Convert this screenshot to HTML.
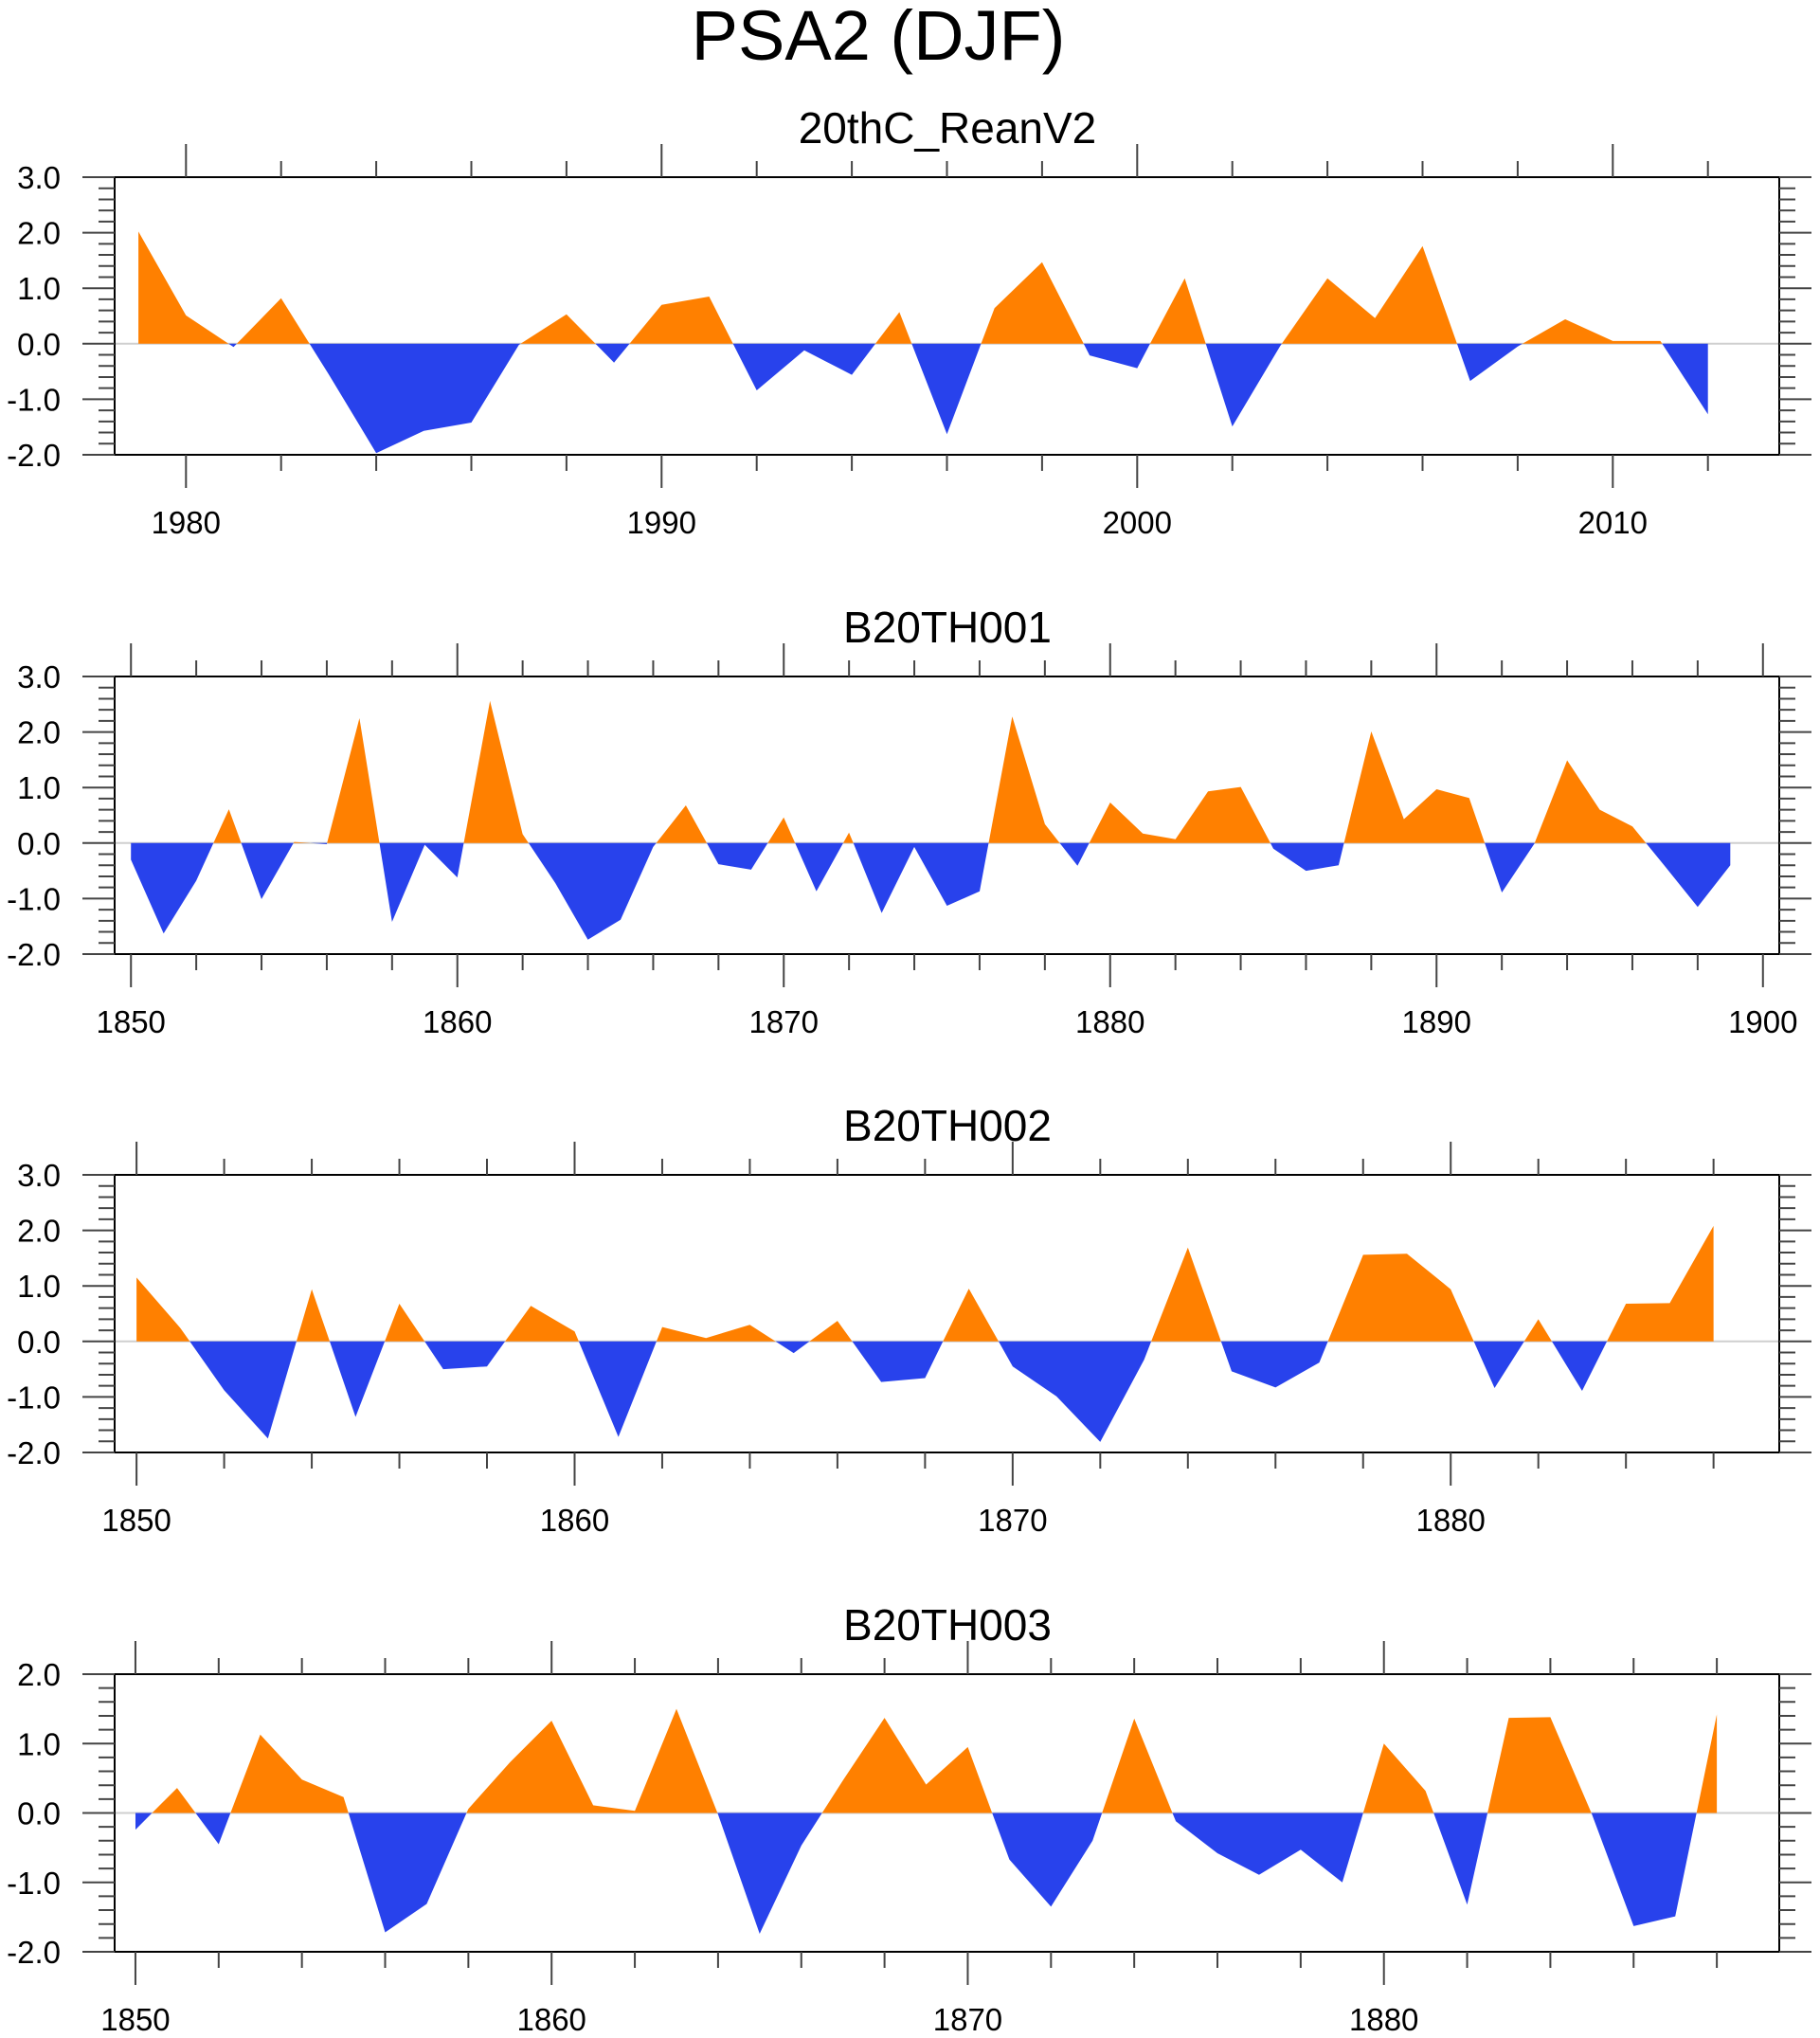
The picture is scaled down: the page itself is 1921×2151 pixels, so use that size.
<!DOCTYPE html>
<html><head><meta charset="utf-8">
<style>
html,body{margin:0;padding:0;background:#fff;}
svg{display:block;}
text{font-family:"Liberation Sans",sans-serif;fill:#000;}
</style></head>
<body>
<svg id="chart" width="1921" height="2151" viewBox="0 0 1921 2151" xmlns="http://www.w3.org/2000/svg">
<text x="927" y="63" font-size="74" text-anchor="middle">PSA2 (DJF)</text>
</svg>
<script>
// ---- data ----
const years1 = [1979,1980,1981,1982,1983,1984,1985,1986,1987,1988,1989,1990,1991,1992,1993,1994,1995,1996,1997,1998,1999,2000,2001,2002,2003,2004,2005,2006,2007,2008,2009,2010,2011,2012];
const values1 = [2.02,0.51,-0.06,0.82,-0.55,-1.97,-1.57,-1.42,-0.02,0.53,-0.34,0.70,0.85,-0.84,-0.12,-0.56,0.57,-1.63,0.64,1.47,-0.21,-0.44,1.18,-1.49,-0.05,1.18,0.46,1.76,-0.67,-0.05,0.44,0.05,0.05,-1.27];
const values2 = [-0.30,-1.63,-0.68,0.61,-1.01,0.02,-0.02,2.25,-1.42,-0.03,-0.62,2.56,0.16,-0.72,-1.74,-1.38,-0.07,0.68,-0.38,-0.48,0.46,-0.87,0.19,-1.26,-0.07,-1.13,-0.87,2.28,0.34,-0.41,0.73,0.17,0.07,0.93,1.01,-0.10,-0.50,-0.40,2.01,0.43,0.97,0.81,-0.89,-0.01,1.49,0.60,0.30,-0.42,-1.15,-0.40];
const values3 = [1.15,0.24,-0.88,-1.75,0.94,-1.36,0.68,-0.50,-0.45,0.64,0.18,-1.72,0.26,0.06,0.30,-0.21,0.37,-0.73,-0.66,0.95,-0.45,-0.99,-1.81,-0.33,1.69,-0.54,-0.83,-0.38,1.56,1.58,0.94,-0.84,0.40,-0.89,0.68,0.69,2.08];
const values4 = [-0.24,0.36,-0.45,1.13,0.48,0.23,-1.72,-1.31,0.06,0.73,1.33,0.11,0.03,1.50,-0.02,-1.74,-0.47,0.47,1.37,0.41,0.95,-0.67,-1.35,-0.40,1.36,-0.12,-0.58,-0.89,-0.53,-1.00,1.00,0.32,-1.32,1.37,1.38,-0.02,-1.63,-1.49,1.42];
const titles = ["20thC_ReanV2","B20TH001","B20TH002","B20TH003"];
const startYears = [1979,1850,1850,1850];
const yMaxes = [3,3,3,2];
const yMins = [-2,-2,-2,-2];
const yTickLabels1 = ["3.0","2.0","1.0","0.0","-1.0","-2.0"];
const yTickLabels4 = ["2.0","1.0","0.0","-1.0","-2.0"];

const NS="http://www.w3.org/2000/svg";
const svg=document.getElementById('chart');
function mk(tag,attrs,parent){const e=document.createElementNS(NS,tag);for(const k in attrs)e.setAttribute(k,attrs[k]);(parent||svg).appendChild(e);return e;}

const L=121,R=1878,PH=293;
const tops=[187,714,1240,1767];

function panel(i,vals){
  const g=mk('g',{});
  
  
  const top=tops[i],bot=top+PH;
  const y0=startYears[i], y1=y0+vals.length-1;
  const xmin=y0-0.5, xmax=y1+1.5;
  const X=yr=>L+(yr-xmin)/(xmax-xmin)*(R-L);
  const ymax=yMaxes[i], ymin=yMins[i];
  const Y=v=>top+(ymax-v)/(ymax-ymin)*PH;
  const t=mk('text',{x:1000,y:top-36,'font-size':46,'text-anchor':'middle'},g);
  t.textContent=titles[i];
  
  
  const zl=mk('line',{x1:L,x2:R,y1:Y(0),y2:Y(0),stroke:'#cfcfcf','stroke-width':2},g);
  
  
  const pts=vals.map((v,k)=>[y0+k,v]);
  let full=[pts[0]];
  for(let k=1;k<pts.length;k++){
    const a=pts[k-1],b=pts[k];
    if((a[1]>0&&b[1]<0)||(a[1]<0&&b[1]>0)){
      const f=a[1]/(a[1]-b[1]);full.push([a[0]+f*(b[0]-a[0]),0]);
    }
    full.push(b);
  }
  function poly(sign,color,name){
    let d='M'+X(full[0][0])+','+Y(0);
    full.forEach(p=>{const v=sign>0?Math.max(p[1],0):Math.min(p[1],0);d+='L'+X(p[0]).toFixed(1)+','+Y(v).toFixed(1);});
    d+='L'+X(full[full.length-1][0])+','+Y(0)+'Z';
    const p=mk('path',{d:d,fill:color},g);
    
    
  }
  poly(1,'#ff8000','positive-area');
  poly(-1,'#2842ec','negative-area');
  const fr=mk('rect',{x:L,y:top,width:R-L,height:PH,fill:'none',stroke:'#000','stroke-width':2},g);
  
  
  const labels=(ymax===3)?yTickLabels1:yTickLabels4;
  for(let v=ymin;v<=ymax+1e-9;v+=0.2){
    const vv=Math.round(v*10)/10;
    const major=Math.abs(vv-Math.round(vv))<1e-6;
    const len=major?34:17;
    mk('line',{x1:L-len,x2:L,y1:Y(vv),y2:Y(vv),stroke:'#444','stroke-width':2},g);
    mk('line',{x1:R,x2:R+len,y1:Y(vv),y2:Y(vv),stroke:'#444','stroke-width':2},g);
  }
  labels.forEach((s,k)=>{
    const tl=mk('text',{x:64,y:Y(ymax-k)+12,'font-size':33,'text-anchor':'end'},g);
    tl.textContent=s;
    
    
  });
  const first=Math.ceil(xmin/2)*2;
  for(let yr=first;yr<=xmax;yr+=2){
    const major=yr%10===0;const len=major?35:17;
    mk('line',{x1:X(yr),x2:X(yr),y1:top-len,y2:top,stroke:'#444','stroke-width':2},g);
    mk('line',{x1:X(yr),x2:X(yr),y1:bot,y2:bot+len,stroke:'#444','stroke-width':2},g);
    if(major){
      const xl=mk('text',{x:X(yr),y:bot+83,'font-size':33,'text-anchor':'middle'},g);
      xl.textContent=String(yr);
      
      
    }
  }
}
panel(0,values1);
panel(1,values2);
panel(2,values3);
panel(3,values4);
</script>
</body></html>
